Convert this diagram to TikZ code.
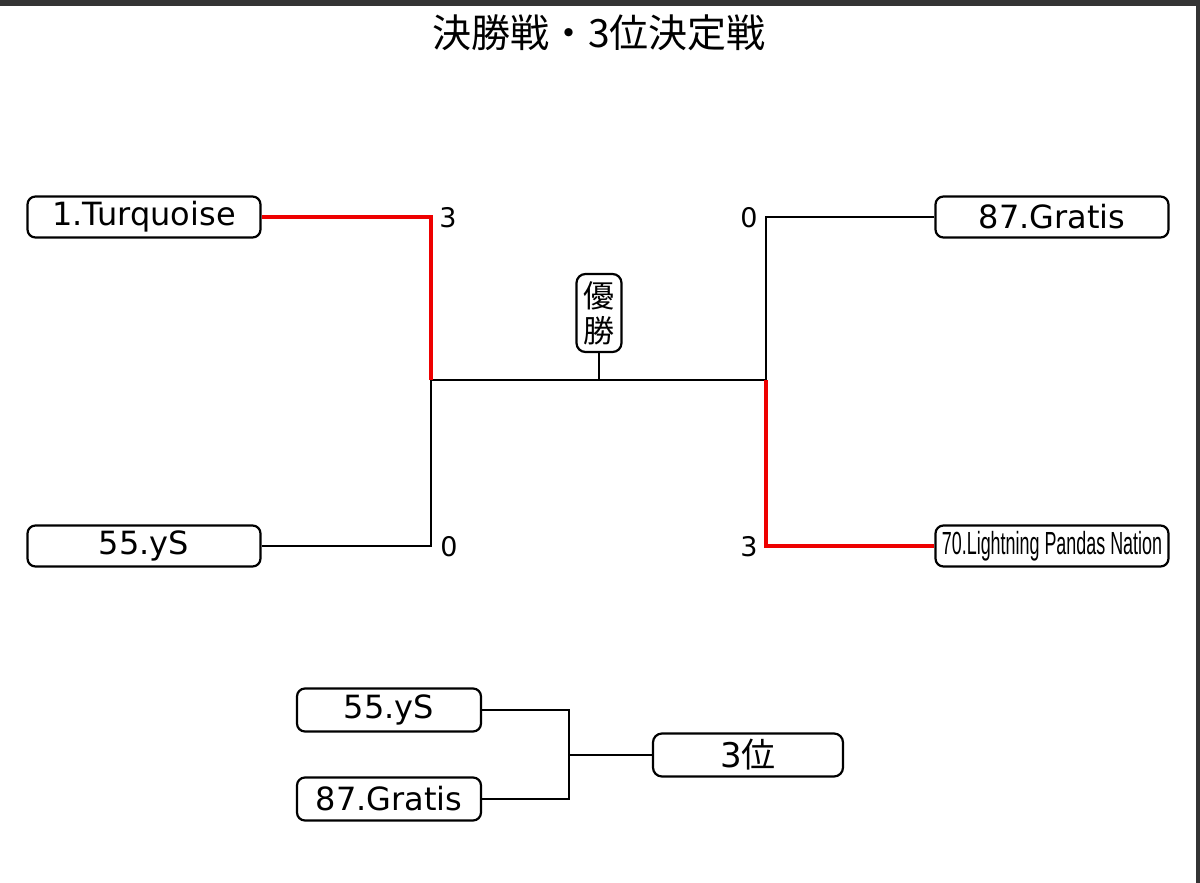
\documentclass[tikz,border=0pt]{standalone}
\usepackage{fontspec}
\usepackage{tikz}
\usetikzlibrary{positioning,calc}
\newfontfamily\jpfont{Noto Sans CJK JP}
\newfontfamily\teamfont{DejaVu Sans}
\newfontfamily\narrowfont{Liberation Sans}
\definecolor{winred}{RGB}{238,0,0}
\definecolor{framegray}{RGB}{52,52,52}
\tikzset{
  team/.style={rectangle, rounded corners=8pt, draw=black, line width=2.2pt, fill=white,
               minimum width=233pt, minimum height=41pt, inner sep=0pt,
               font=\teamfont\fontsize{32}{32}\selectfont},
  teamsmall/.style={team, minimum width=184pt, minimum height=43pt},
  prize/.style={rectangle, rounded corners=9pt, draw=black, line width=2.2pt, fill=white,
                inner sep=0pt, align=center, font=\jpfont\fontsize{31}{35}\selectfont},
  score/.style={inner sep=0pt, font=\teamfont\fontsize{27}{27}\selectfont},
  line/.style={line width=2.2pt, black},
  winline/.style={line width=4.4pt, winred},
}
\begin{document}
\begin{tikzpicture}[x=1pt, y=-1pt]
\useasboundingbox (0,0) rectangle (1200,883);
\fill[framegray] (0,0) rectangle (1200,6);
\fill[framegray] (1196,0) rectangle (1200,883);

% title
\node[font=\jpfont\fontsize{39}{39}\selectfont] (title) at (599,33) {決勝戦・3位決定戦};

% final
\node[team] (turq) at (144,217) {1.Turquoise};
\node[team] (ysA) at (144,546) {55.yS};
\node[team] (gratA) at (1052,217) {87.Gratis};
\node[team] (pandas) at (1052,546) {\narrowfont\scalebox{0.56}[1]{70.Lightning Pandas Nation}};
\node[prize, minimum width=45pt, minimum height=78pt] (yusho) at (599,313) {優\\勝};
\coordinate (jL) at (431,380);
\coordinate (jR) at (766,380);

\draw[line] (ysA.east) -| (jL);
\draw[line] (gratA.west) -| (jR);
\draw[line] (jL) -- (jR);
\draw[line] (yusho.south) -- (yusho.south |- jL);
\draw[winline] (turq.east) -| (jL);
\draw[winline] (pandas.west) -| (jR);

\node[score] (scTurq) at (448,218) {3};
\node[score] (scYsA) at (449,547) {0};
\node[score] (scGratA) at (749,218) {0};
\node[score] (scPandas) at (749,547) {3};

% 3rd place
\node[teamsmall] (ysB) at (389,710) {55.yS};
\node[teamsmall] (gratB) at (389,799) {87.Gratis};
\node[prize, minimum width=190pt, minimum height=43pt, font=\jpfont\fontsize{34}{34}\selectfont]
  (third) at (748,755) {\teamfont 3\jpfont 位};
\coordinate (j3) at (569,755);
\foreach \t in {ysB, gratB}
  \draw[line] (\t.east) -| (j3);
\draw[line] (j3) -- (third.west);
\end{tikzpicture}
\end{document}
